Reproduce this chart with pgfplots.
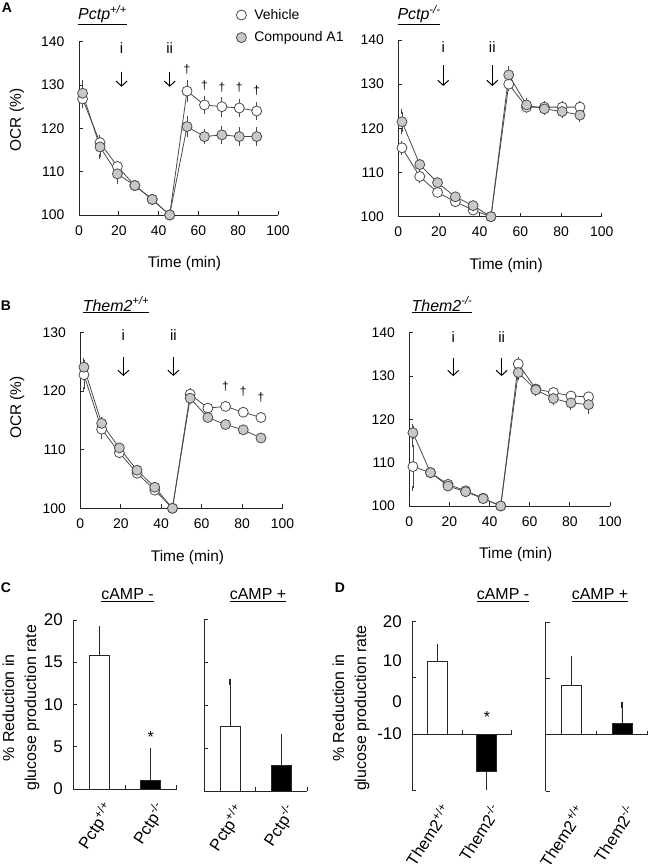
\documentclass[border=0pt]{standalone}
\usepackage{fontspec}
\setmainfont{Liberation Sans}
\usepackage{pgfplots}
\usepackage{pgfplotstable}
\pgfplotsset{compat=1.18}
\usetikzlibrary{arrows.meta}

\definecolor{edge}{HTML}{4A4A4A}
\definecolor{cmpd}{HTML}{C8C8C8}

% time courses: t, vehicle, sem, compound A1, sem
\pgfplotstableread{
t     veh   ve   cmp   ce
1.8   126.8 1.5  128.1 2.5
10.55 116.7 1.0  115.7 2.2
19.3  111.2 0.8  109.5 1.8
28.05 106.8 0.6  106.8 0.6
36.8  103.6 0.6  103.6 0.6
45.55 100.0 0.0  100.0 0.0
54.3  128.6 1.9  120.4 1.9
63.05 125.4 1.5  118.1 1.2
71.8  125.0 1.7  118.5 1.5
80.55 124.7 1.5  118.1 1.6
89.3  124.0 1.4  118.1 1.6
}\pctpwt
\pgfplotstableread{
t     veh   ve   cmp   ce
1.8   115.6 1.0  121.5 2.3
10.55 109.1 0.8  111.8 0.8
19.3  105.5 0.8  107.7 0.8
28.05 103.4 0.5  104.5 0.6
36.8  101.5 0.5  102.5 0.6
45.55 100.0 0.0  100.0 0.0
54.3  130.0 1.0  132.1 1.5
63.05 124.8 0.8  125.3 1.0
71.8  124.8 0.8  124.4 0.8
80.55 124.8 0.8  123.8 0.8
89.3  124.8 0.8  123.0 1.0
}\pctpko
\pgfplotstableread{
t     veh   ve   cmp   ce
1.8   122.8 2.5  124.1 1.2
10.55 113.5 1.2  114.5 0.7
19.3  109.5 0.5  110.3 0.4
28.05 106.0 0.4  106.5 0.4
36.8  103.1 0.4  103.6 0.4
45.55 100.0 0.0  100.0 0.0
54.3  119.5 0.6  118.8 0.6
63.05 117.1 0.4  115.5 0.4
71.8  117.4 0.4  114.3 0.4
80.55 116.4 0.4  113.4 0.4
89.3  115.5 0.4  112.0 0.4
}\themwt
\pgfplotstableread{
t     veh   ve   cmp   ce
1.8   109.1 5.0  116.9 1.5
10.55 107.7 0.5  107.7 0.5
19.3  105.0 0.5  104.6 0.5
28.05 103.5 0.5  103.3 0.5
36.8  101.8 0.4  101.7 0.4
45.55 100.0 0.0  100.0 0.0
54.3  132.8 1.0  130.8 1.2
63.05 127.0 0.6  126.8 0.8
71.8  126.2 0.6  124.8 0.8
80.55 125.4 0.6  123.8 1.0
89.3  125.2 0.6  123.4 1.6
}\themko

\pgfplotsset{
  base/.style={scale only axis, axis lines*=left, tick align=inside,
    major tick length=4bp, enlargelimits=false, clip=false,
    axis line style={black!85, line width=0.8bp},
    tick style={black!85, line width=0.8bp},
    /pgf/number format/assume math mode=true,
    tick label style={font=\fontsize{14}{16}\selectfont},
    label style={font=\fontsize{15.5}{18}\selectfont}},
  ocr/.style={base, xmin=0, xmax=100, xtick={0,20,...,100}, ytick distance=10,
    xlabel={Time (min)},
    xlabel style={at={(axis description cs:0.53,0)}, anchor=center, yshift=-49bp},
    xticklabel style={yshift=-7bp}, yticklabel style={xshift=-11bp}},
  ocrlab/.style={ylabel={OCR (\%)},
    ylabel style={at={(axis description cs:-0.312,#1)}, anchor=center}},
  veh/.style={draw=edge, line width=0.8bp, mark=*, mark size=5bp,
    mark options={fill=white, draw=edge, line width=0.8bp, solid},
    error bars/y dir=both, error bars/y explicit,
    error bars/error bar style={edge, line width=0.8bp},
    error bars/error mark options={edge, line width=1bp, mark size=2.5bp}},
  cmp/.style={veh, mark options={fill=cmpd}},
  % bar panels: dividers at 1 and 2, group names at 0.5 and 1.5
  bars/.style={base, xmin=0, xmax=2, xtick={1,2}, xticklabels={},
    extra x ticks={0.5,1.5},
    extra x tick style={major tick length=0pt, xticklabel shift=#1,
      xticklabel style={rotate=57, anchor=north east, inner sep=0pt,
        xshift=1.6bp, yshift=-2.5bp, font=\fontsize{16.5}{18}\selectfont}},
    tick label style={font=\fontsize{17}{19}\selectfont},
    yticklabel style={xshift=-7bp}},
  bars/.default=11bp,
  redlab/.style={ylabel={\% Reduction in\\glucose production rate},
    ylabel style={align=center, font=\fontsize{16}{22}\selectfont,
      at={(axis description cs:#1)}, anchor=center}},
  wbar/.style={ybar, bar width=20bp, bar shift=0pt, fill=white, draw=black!85,
    line width=0.8bp, error bars/y explicit,
    error bars/error bar style={black!85, line width=0.8bp},
    error bars/error mark options={black!85, line width=1.2bp, mark size=3bp}},
  kbar/.style={wbar, fill=black},
}
\tikzset{
  steplab/.style={font=\fontsize{15}{18}\selectfont},
  dag/.style={font=\fontsize{12}{14}\selectfont},
  inj/.style={-{Straight Barb[length=5bp,width=11bp]}, line width=1bp},
}

\begin{document}
\begin{tikzpicture}[font=\fontsize{14}{16}\selectfont]
\path[use as bounding box] (0,0) rectangle (650bp,864bp);

% ---------- A, Pctp+/+
\begin{axis}[ocr, ocrlab=0.548, at={(79bp,649bp)}, anchor=south west,
  width=199bp, height=173.3bp, ymin=100, ymax=140,
  legend style={at={(axis description cs:0.79,1.2)}, anchor=north west,
    draw=none, fill=none, inner sep=0pt, row sep=7bp,
    font=\fontsize{14}{16}\selectfont, legend cell align=left,
    /tikz/every odd column/.append style={column sep=6bp}}]
\addlegendimage{only marks, mark=*, mark size=5bp, mark options={fill=white, draw=edge, line width=0.8bp}}
\addlegendentry{Vehicle}
\addlegendimage{only marks, mark=*, mark size=5bp, mark options={fill=cmpd, draw=edge, line width=0.8bp}}
\addlegendentry{Compound A1}
\addplot[veh, forget plot] table[x=t, y=veh, y error=ve] {\pctpwt};
\addplot[cmp, forget plot] table[x=t, y=cmp, y error=ce] {\pctpwt};
\node[steplab] at (axis cs:21.4,138.5) {i};
\node[steplab] at (axis cs:45.6,138.5) {ii};
\draw[inj] (axis cs:21.4,133.1) -- (axis cs:21.4,129.6);
\draw[inj] (axis cs:45.6,133.1) -- (axis cs:45.6,129.6);
\node[dag] at (axis cs:54.3,133.5) {\textdagger};
\node[dag] at (axis cs:63.05,129.8) {\textdagger};
\node[dag] at (axis cs:71.8,129.5) {\textdagger};
\node[dag] at (axis cs:80.55,129.5) {\textdagger};
\node[dag] at (axis cs:89.3,128.8) {\textdagger};
\end{axis}

% ---------- A, Pctp-/-
\begin{axis}[ocr, at={(398.3bp,647.3bp)}, anchor=south west,
  width=203.4bp, height=176.7bp, ymin=100, ymax=140]
\addplot[veh] table[x=t, y=veh, y error=ve] {\pctpko};
\addplot[cmp] table[x=t, y=cmp, y error=ce] {\pctpko};
\node[steplab] at (axis cs:22.1,138.5) {i};
\node[steplab] at (axis cs:46.2,138.5) {ii};
\draw[inj] (axis cs:22.1,134.3) -- (axis cs:22.1,129.6);
\draw[inj] (axis cs:46.2,134.3) -- (axis cs:46.2,129.6);
\end{axis}

% ---------- B, Them2+/+
\begin{axis}[ocr, ocrlab=0.574, at={(80.3bp,355.7bp)}, anchor=south west,
  width=202.3bp, height=175.7bp, ymin=100, ymax=130]
\addplot[veh] table[x=t, y=veh, y error=ve] {\themwt};
\addplot[cmp] table[x=t, y=cmp, y error=ce] {\themwt};
\node[steplab] at (axis cs:21.3,129.6) {i};
\node[steplab] at (axis cs:46,129.6) {ii};
\draw[inj] (axis cs:21.3,125.8) -- (axis cs:21.3,122.6);
\draw[inj] (axis cs:46,125.8) -- (axis cs:46,122.6);
\node[dag] at (axis cs:71.8,120.7) {\textdagger};
\node[dag] at (axis cs:80.55,119.9) {\textdagger};
\node[dag] at (axis cs:89.3,118.9) {\textdagger};
\end{axis}

% ---------- B, Them2-/-
\begin{axis}[ocr, at={(409.3bp,358bp)}, anchor=south west,
  width=200.7bp, height=173.3bp, ymin=100, ymax=140]
\addplot[veh] table[x=t, y=veh, y error=ve] {\themko};
\addplot[cmp] table[x=t, y=cmp, y error=ce] {\themko};
\node[steplab] at (axis cs:21.9,139.1) {i};
\node[steplab] at (axis cs:46,139.1) {ii};
\draw[inj] (axis cs:21.9,134.1) -- (axis cs:21.9,130.0);
\draw[inj] (axis cs:46,134.1) -- (axis cs:46,130.0);
\end{axis}

% ---------- C, cAMP -
\begin{axis}[bars, redlab={-0.506,0.48},
  at={(73.3bp,75bp)}, anchor=south west, width=103.4bp, height=169bp,
  ymin=0, ymax=20, ytick={0,5,...,20},
  extra x tick labels={Pctp\textsuperscript{+/+}, Pctp\textsuperscript{-/-}}]
\addplot[wbar, error bars/y dir=plus] coordinates {(0.5,15.78) +- (0,3.1)};
\addplot[kbar, error bars/y dir=plus] coordinates {(1.5,1.07) +- (0,3.45)};
\node[font=\fontsize{16}{18}\selectfont] at (axis cs:1.5,6.1) {*};
\end{axis}

% ---------- C, cAMP +
\begin{axis}[bars, at={(204.3bp,73bp)}, anchor=south west,
  width=103bp, height=171.7bp, ymin=0, ymax=20, ytick={0,5,...,20}, yticklabels={},
  extra x tick labels={Pctp\textsuperscript{+/+}, Pctp\textsuperscript{-/-}}]
\addplot[wbar, error bars/y dir=plus] coordinates {(0.5,7.57) +- (0,5.16)};
\addplot[kbar, error bars/y dir=plus] coordinates {(1.5,3.03) +- (0,3.26)};
\end{axis}

% ---------- D, cAMP -
\begin{axis}[bars=68bp, axis x line*=middle, redlab={-0.617,0.487},
  at={(412.3bp,74bp)}, anchor=south west, width=99.4bp, height=168.3bp,
  ymin=-10, ymax=20, ytick={-10,0,10,20}, yticklabels={},
  extra y ticks={0,5.7,13,20}, extra y tick labels={-10,0,10,20},
  extra y tick style={major tick length=0pt},
  extra x tick labels={Them2\textsuperscript{+/+}, Them2\textsuperscript{-/-}}]
\addplot[wbar, error bars/y dir=plus] coordinates {(0.5,12.96) +- (0,2.55)};
\addplot[kbar, error bars/y dir=minus] coordinates {(1.5,-6.65) +- (0,2.8)};
\node[font=\fontsize{16}{18}\selectfont] at (axis cs:1.5,3.0) {*};
\end{axis}

% ---------- D, cAMP +
\begin{axis}[bars=68bp, axis x line*=middle, at={(545.7bp,73bp)}, anchor=south west,
  width=101.6bp, height=168.7bp, ymin=-10, ymax=20, ytick={-10,0,10,20}, yticklabels={},
  extra x tick labels={Them2\textsuperscript{+/+}, Them2\textsuperscript{-/-}}]
\addplot[wbar, error bars/y dir=plus] coordinates {(0.5,8.7) +- (0,4.8)};
\addplot[kbar, error bars/y dir=plus] coordinates {(1.5,2.1) +- (0,3.2)};
\end{axis}

% panel letters and headings
\begin{scope}[every node/.style={font=\fontsize{14}{16}\selectfont\bfseries}]
\node at (7bp,856bp) {A};
\node at (6bp,558bp) {B};
\node at (6bp,276bp) {C};
\node at (340bp,276bp) {D};
\end{scope}
\begin{scope}[every node/.style={font=\fontsize{16}{18}\selectfont}]
\node at (102.5bp,849bp) {\underline{\textit{Pctp}\textsuperscript{\textit{+/+}}}};
\node at (419bp,849bp) {\underline{\textit{Pctp}\textsuperscript{\textit{-/-}}}};
\node at (116bp,559bp) {\underline{\textit{Them2}\textsuperscript{\textit{+/+}}}};
\node at (442bp,559bp) {\underline{\textit{Them2}\textsuperscript{\textit{-/-}}}};
\node at (127.5bp,269bp) {\underline{cAMP -}};
\node at (258bp,269bp) {\underline{cAMP +}};
\node at (503bp,269bp) {\underline{cAMP -}};
\node at (600bp,269bp) {\underline{cAMP +}};
\end{scope}
\end{tikzpicture}
\end{document}
